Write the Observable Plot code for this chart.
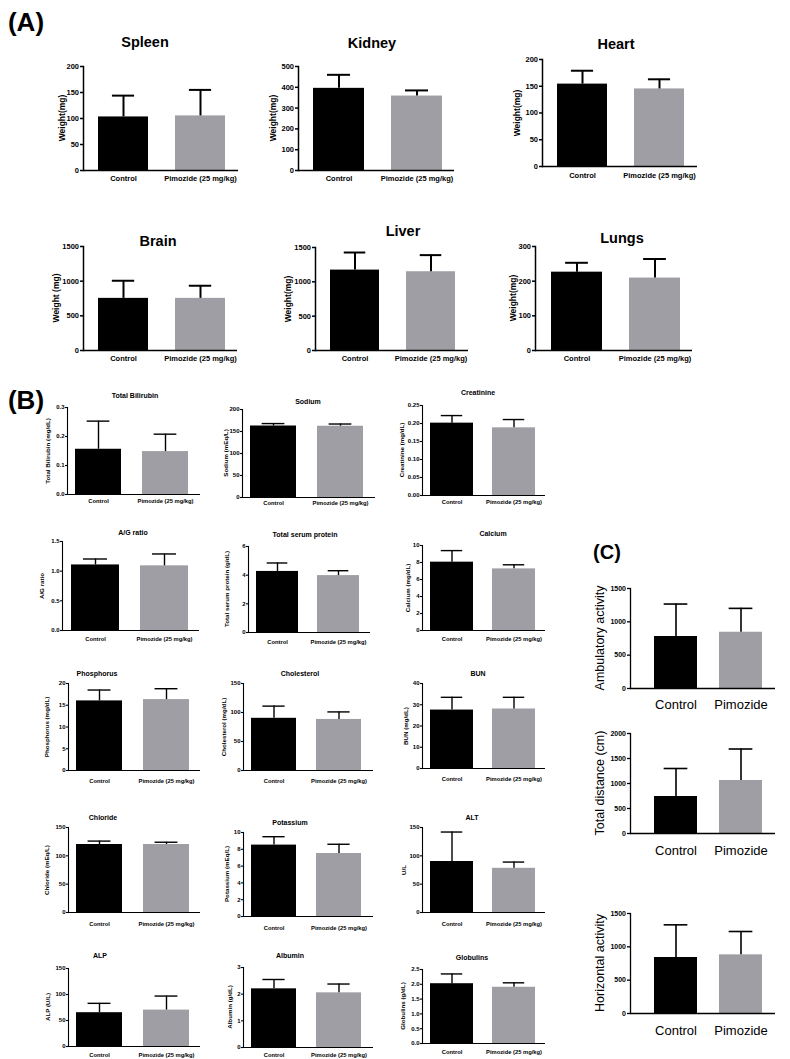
<!DOCTYPE html>
<html><head><meta charset="utf-8">
<script src="https://cdn.jsdelivr.net/npm/d3@7"></script>
<script src="https://cdn.jsdelivr.net/npm/@observablehq/plot@0.6"></script>
<style>
body{margin:0;background:#fff;}
#fig{position:relative;width:790px;height:1059px;overflow:hidden;background:#fff;font-family:"Liberation Sans",Arial,sans-serif;color:#000;}
.t{position:absolute;white-space:nowrap;font-weight:bold;line-height:1;}
</style></head>
<body><div id="fig"></div>
<script>
// ---------- data ----------
const groupsAB = ["Control", "Pimozide (25 mg/kg)"];
const groupsC = ["Control", "Pimozide"];

// (A) organ weights
const organTitles = ["Spleen", "Kidney", "Heart", "Brain", "Liver", "Lungs"];
const organYLabels = ["Weight(mg)", "Weight(mg)", "Weight(mg)", "Weight (mg)", "Weight(mg)", "Weight(mg)"];
const organControlMean = [103, 395, 154, 752, 1171, 226];
const organControlSD = [41, 65, 25, 254, 256, 27];
const organPimozideMean = [105, 358, 145, 752, 1147, 209];
const organPimozideSD = [50, 27, 18, 182, 242, 55];
const organYMax = [200, 500, 200, 1500, 1500, 300];
const organTickStep = [50, 100, 50, 500, 500, 100];

// (B) serum biochemistry
const bioTitles = ["Total Bilirubin", "Sodium", "Creatinine", "A/G ratio", "Total serum protein", "Calcium",
  "Phosphorus", "Cholesterol", "BUN", "Chloride", "Potassium", "ALT", "ALP", "Albumin", "Globulins"];
const bioYLabels = ["Total Bilirubin (mg/dL)", "Sodium (mEq/L)", "Creatinine (mg/dL)", "A/G ratio",
  "Total serum protein (g/dL)", "Calcium (mg/dL)", "Phosphorus (mg/dL)", "Cholesterol (mg/dL)", "BUN (mg/dL)",
  "Chloride (mEq/L)", "Potassium (mEq/L)", "U/L", "ALP (U/L)", "Albumin (g/dL)", "Globulins (g/dL)"];
const bioControlMean = [0.156, 162.5, 0.201, 1.105, 4.26, 8.04, 16.0, 90, 27.5, 120, 8.5, 90, 65, 2.2, 2.02];
const bioControlSD = [0.097, 5.5, 0.021, 0.10, 0.59, 1.36, 2.5, 21, 6, 6, 1.0, 52, 18, 0.35, 0.33];
const bioPimozideMean = [0.148, 162, 0.188, 1.09, 3.97, 7.25, 16.3, 88, 28, 120, 7.5, 78, 70, 2.05, 1.9];
const bioPimozideSD = [0.06, 5, 0.023, 0.20, 0.34, 0.48, 2.5, 13, 5.5, 4, 1.1, 11, 27, 0.33, 0.15];
const bioYMax = [0.3, 200, 0.25, 1.5, 6, 10, 20, 150, 40, 150, 10, 150, 150, 3, 2.5];
const bioTickStep = [0.1, 50, 0.05, 0.5, 2, 2, 5, 50, 10, 50, 2, 50, 50, 1, 0.5];
const bioTickDecimals = [1, 0, 2, 1, 0, 0, 0, 0, 0, 0, 0, 0, 0, 0, 1];

// (C) open-field activity
const actYLabels = ["Ambulatory  activity", "Total distance (cm)", "Horizontal activity"];
const actControlMean = [780, 740, 840];
const actControlSD = [487, 560, 490];
const actPimozideMean = [844, 1060, 880];
const actPimozideSD = [358, 630, 350];
const actYMax = [1500, 2000, 1500];
const actTickStep = [500, 500, 500];

// ---------- layout (pixel positions of each panel) ----------
const layoutA = [
  {ax:83, top:66, bot:170, right:238, tx:145, ty:42, yl:62, xly:178},
  {ax:298, top:66, bot:170, right:454, tx:372, ty:43, yl:273, xly:178},
  {ax:542, top:59, bot:166, right:697, tx:616, ty:44, yl:517, xly:175},
  {ax:83, top:246, bot:350, right:237, tx:158, ty:241, yl:56, xly:358},
  {ax:315, top:247, bot:350, right:468, tx:403, ty:231, yl:288, xly:358},
  {ax:535, top:246, bot:350, right:692, tx:622, ty:238, yl:513, xly:358}
];
const layoutB = [
  {ax:67, top:407, bot:494, right:200, tx:135, ty:395, yl:48, xly:501},
  {ax:242, top:409, bot:497, right:375, tx:308, ty:401, yl:226, xly:503},
  {ax:422, top:405, bot:495, right:545, tx:478, ty:392, yl:402, xly:502},
  {ax:62, top:541, bot:630, right:199, tx:133, ty:532, yl:42, xly:639},
  {ax:248, top:546, bot:632, right:370, tx:305, ty:534, yl:227, xly:642},
  {ax:422, top:545, bot:630, right:545, tx:493, ty:533, yl:408, xly:639},
  {ax:68, top:683, bot:770, right:200, tx:97, ty:673, yl:47, xly:781},
  {ax:243, top:683, bot:770, right:373, tx:300, ty:673, yl:224, xly:781},
  {ax:422, top:683, bot:768, right:545, tx:478, ty:673, yl:406, xly:779},
  {ax:68, top:827, bot:912, right:200, tx:103, ty:817, yl:47, xly:924},
  {ax:243, top:832, bot:916, right:373, tx:290, ty:822, yl:227, xly:928},
  {ax:422, top:827, bot:912, right:545, tx:472, ty:817, yl:404, xly:924},
  {ax:68, top:968, bot:1046, right:200, tx:100, ty:955, yl:48, xly:1055},
  {ax:243, top:967, bot:1047, right:373, tx:290, ty:955, yl:230, xly:1055},
  {ax:422, top:969, bot:1043, right:545, tx:472, ty:957, yl:403, xly:1052}
];
const layoutC = [
  {ax:630, top:588, bot:688, right:775, yl:600, xly:704},
  {ax:630, top:733, bot:833, right:775, yl:600, xly:850},
  {ax:630, top:913, bot:1013, right:775, yl:600, xly:1030}
];
const styleA = {pi:0.35, po:0.17, align:0.55, cap:0.45, tickFont:7.5, xFont:7.5, xWeight:"bold", yFont:8.5, yWeight:"bold", err:2, axis:1.5, tick:3, pad:1.5, titleFont:14.5};
const styleB = {pi:0.31, po:0.14, align:0.42, cap:0.5, tickFont:6, xFont:5.8, xWeight:"bold", yFont:6.2, yWeight:"bold", err:1.4, axis:1.1, tick:2, pad:1, titleFont:7};
const styleC = {pi:0.34, po:0.285, align:0.65, cap:0.55, tickFont:7, xFont:13, xWeight:"normal", yFont:12.5, yWeight:"normal", err:1.6, axis:1.3, tick:3, pad:1.5, titleFont:0};

const fig = document.getElementById("fig");
const barColors = ["#000000", "#a09ea5"];

function addText(txt, x, y, size, weight, rotate) {
  const d = document.createElement("div");
  d.className = "t";
  d.textContent = txt;
  d.style.left = x + "px"; d.style.top = y + "px";
  d.style.fontSize = size + "px"; d.style.fontWeight = weight || "bold";
  d.style.transform = "translate(-50%,-50%)" + (rotate ? ` rotate(${rotate}deg)` : "");
  fig.appendChild(d);
}

function drawChart(groups, mean, sd, yMax, step, dec, title, ylabel, L, S) {
  const rows = groups.map((g, i) => ({group: g, mean: mean[i], top: mean[i] + sd[i]}));
  const mL = 30;
  const mR = 6, mT = 6;
  const mB = (L.xly - L.bot) + S.xFont;
  const plotW = L.right - L.ax;
  const width = mL + plotW + mR;
  const height = mT + (L.bot - L.top) + mB;
  const bandStep = plotW / (2 - S.pi + 2 * S.po);
  const bw = bandStep * (1 - S.pi);
  const capInset = bw * (1 - S.cap) / 2;
  const n = Math.round(yMax / step);
  const ticks = d3.range(n + 1).map(i => +(i * step).toFixed(6));
  const svg = Plot.plot({
    width, height, marginLeft: mL, marginRight: mR, marginTop: mT, marginBottom: mB,
    style: {fontFamily: "'Liberation Sans', Arial, sans-serif", fontSize: S.tickFont + "px", fontWeight: "bold", color: "#000", background: "transparent", overflow: "visible"},
    x: {domain: groups, paddingInner: S.pi, paddingOuter: S.po, align: S.align, axis: null},
    y: {domain: [0, yMax], axis: null},
    color: {domain: groups, range: barColors},
    marks: [
      Plot.barY(rows, {x: "group", y: "mean", fill: "group"}),
      Plot.ruleX(rows, {x: "group", y1: "mean", y2: "top", strokeWidth: S.err, stroke: "#000"}),
      Plot.tickY(rows, {x: "group", y: "top", strokeWidth: S.err, stroke: "#000", insetLeft: capInset, insetRight: capInset}),
      Plot.ruleY([0], {strokeWidth: S.axis, stroke: "#000"}),
      Plot.frame({anchor: "left", strokeWidth: S.axis, stroke: "#000"}),
      Plot.axisY({ticks, tickFormat: d3.format(`.${dec}f`), tickSize: S.tick, tickPadding: S.pad, strokeWidth: S.axis, fill: "#000"}),
      Plot.text(rows, {x: "group", text: "group", frameAnchor: "bottom", dy: L.xly - L.bot, lineAnchor: "middle", fontSize: S.xFont, fontWeight: S.xWeight, fill: "#000"})
    ]
  });
  svg.style.position = "absolute";
  svg.style.left = (L.ax - mL) + "px";
  svg.style.top = (L.top - mT) + "px";
  svg.style.maxWidth = "none";
  fig.appendChild(svg);
  addText(ylabel, L.yl, (L.top + L.bot) / 2, S.yFont, S.yWeight, -90);
  if (title) addText(title, L.tx, L.ty, S.titleFont, "bold");
}

// panel letters
addText("(A)", 26, 22, 26, "bold");
addText("(B)", 26, 400, 26, "bold");
addText("(C)", 607, 552, 20, "bold");

organTitles.forEach((t, i) => drawChart(groupsAB, [organControlMean[i], organPimozideMean[i]], [organControlSD[i], organPimozideSD[i]],
  organYMax[i], organTickStep[i], 0, t, organYLabels[i], layoutA[i], styleA));
bioTitles.forEach((t, i) => drawChart(groupsAB, [bioControlMean[i], bioPimozideMean[i]], [bioControlSD[i], bioPimozideSD[i]],
  bioYMax[i], bioTickStep[i], bioTickDecimals[i], t, bioYLabels[i], layoutB[i], styleB));
actYLabels.forEach((t, i) => drawChart(groupsC, [actControlMean[i], actPimozideMean[i]], [actControlSD[i], actPimozideSD[i]],
  actYMax[i], actTickStep[i], 0, null, t, layoutC[i], styleC));
</script>
</body></html>
